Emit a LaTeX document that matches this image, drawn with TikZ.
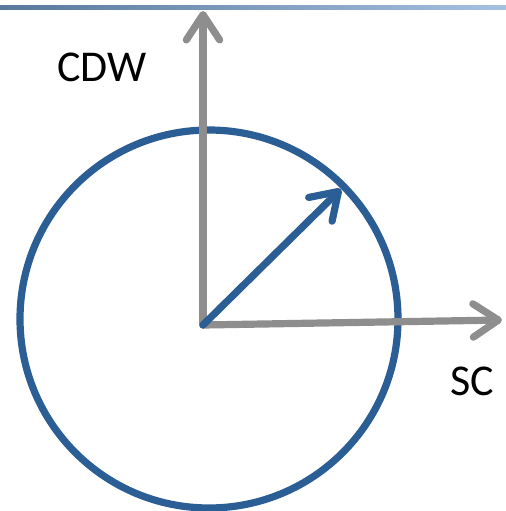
\documentclass[tikz,border=0pt]{standalone}
\usepackage{fontspec}
\setmainfont{Carlito}
\usetikzlibrary{arrows.meta}

\definecolor{axisgray}{RGB}{142,142,142}
\definecolor{ringblue}{RGB}{42,94,148}
\definecolor{barblue}{RGB}{118,160,208}

\tikzset{
	axis/.style={draw=axisgray,line width=5.4pt,-{Straight Barb[length=19pt,width=25pt,round]}},
	vec/.style={draw=ringblue,line width=5.4pt,-{Straight Barb[length=19pt,width=25pt,round]}},
	lbl/.style={font=\fontsize{33}{40}\selectfont,inner sep=0pt}
}

\begin{document}
\begin{tikzpicture}[x=0.75pt,y=-0.75pt,line cap=round]
	\useasboundingbox (0,0) rectangle (506,511);

	%TOP BAR
	\shade[left color=barblue!75!black,middle color=barblue,right color=barblue!65!white]
		(0,5.5) rectangle (506,9.5);

	%RING
	\node[circle,draw=ringblue,line width=5.4pt,minimum size=283.5pt,inner sep=0pt,outer sep=0pt]
		(ring) at (209,319) {};

	%AXES
	\coordinate (O) at (203,325);
	\coordinate (cdwtip) at (203,11);
	\coordinate (sctip) at (502,320);
	\draw[axis] (O) -- (cdwtip);
	\draw[axis] (O) -- (sctip);

	%STATE VECTOR
	\coordinate (state) at (341,189);
	\draw[vec] (O) -- (state);

	%LABELS
	\node[lbl] (cdw) at (102,67) {CDW};
	\node[lbl] (sc) at (472,381) {SC};
\end{tikzpicture}
\end{document}
